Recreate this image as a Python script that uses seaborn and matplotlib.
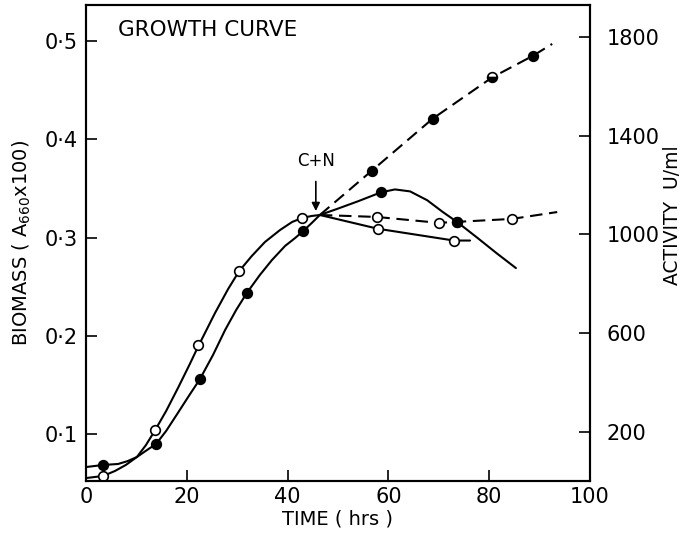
import matplotlib
matplotlib.use("Agg")
import matplotlib.pyplot as plt
import seaborn as sns
import pandas as pd
from matplotlib.ticker import FixedLocator, FixedFormatter

sns.set_style("ticks")
plt.rcParams['font.family'] = ['DejaVu Sans']
plt.rcParams['mathtext.fontset'] = 'dejavusans'
for k in ["text.color", "axes.labelcolor", "xtick.color", "ytick.color", "axes.edgecolor"]:
    plt.rcParams[k] = "black"

# ---------------- data ----------------
# measured points, growth phase
filled_t = [3.4, 13.9, 22.6, 31.9, 43.1]
filled_b = [0.069, 0.090, 0.156, 0.244, 0.307]
open_t = [3.4, 13.7, 22.2, 30.4, 42.9]
open_b = [0.0575, 0.104, 0.191, 0.266, 0.320]

# hand-drawn growth curves (traced)
open_curve_t = [0, 3.4, 5.75, 7.9, 10.1, 11.9, 13.7, 15.9, 18.25, 20.6, 22.2, 25.6,
                28.2, 30.4, 32.9, 35.5, 38.5, 40.9, 42.9, 44.8, 46.4]
open_curve_b = [0.0554, 0.0575, 0.0626, 0.0687, 0.0768, 0.089, 0.104, 0.1236, 0.147,
                0.1714, 0.1887, 0.2233, 0.2477, 0.266, 0.2813, 0.2955, 0.3077, 0.3159,
                0.320, 0.322, 0.323]
filled_curve_t = [0, 3.4, 6.35, 8.3, 10.1, 12.1, 13.9, 15.9, 18.1, 20.4, 22.6, 25.2,
                  27.6, 29.8, 31.9, 34.5, 36.9, 39.5, 41.5, 43.1, 44.8, 46.4]
filled_curve_b = [0.0666, 0.0687, 0.0697, 0.0727, 0.0768, 0.0839, 0.090, 0.1033, 0.1206,
                  0.1389, 0.156, 0.1806, 0.206, 0.2264, 0.2436, 0.262, 0.2772, 0.2915,
                  0.2996, 0.3067, 0.3149, 0.323]

# after C+N addition
up_t = [46.4, 56.7, 68.8, 80.6, 88.7, 92.5]          # dashed, rising
up_b = [0.323, 0.368, 0.421, 0.463, 0.485, 0.497]
up_pts_t = [56.7, 68.8, 88.7]
up_pts_b = [0.368, 0.421, 0.485]
up_half_t = [80.6]
up_half_b = [0.463]

peak_t = [46.4, 50.0, 54.0, 58.5, 61.3, 64.3, 67.7, 70.8, 73.6, 77.6, 81.5, 85.3]   # solid, peak
peak_b = [0.323, 0.3295, 0.337, 0.346, 0.349, 0.347, 0.338, 0.326, 0.316, 0.300, 0.284, 0.269]
peak_pts_t = [58.5, 73.6]
peak_pts_b = [0.346, 0.316]

flat_t = [46.4, 57.7, 70.0, 73.6, 84.5, 93.5]        # dashed, flat
flat_b = [0.323, 0.321, 0.315, 0.316, 0.319, 0.326]
flat_pts_t = [57.7, 70.0, 84.5]
flat_pts_b = [0.321, 0.315, 0.319]

low_t = [46.4, 57.9, 73.0, 76.2]                     # solid, declining
low_b = [0.323, 0.309, 0.297, 0.297]
low_pts_t = [57.9, 73.0]
low_pts_b = [0.309, 0.297]

x_ticks = [0, 20, 40, 60, 80, 100]
x_labels = ["0", "20", "40", "60", "80", "100"]
y_ticks = [0.1, 0.2, 0.3, 0.4, 0.5]
y_labels = ["0·1", "0·2", "0·3", "0·4", "0·5"]
r_ticks = [200, 600, 1000, 1400, 1800]
r_labels = ["200", "600", "1000", "1400", "1800"]

# ---------------- figure ----------------
fig = plt.figure(figsize=(6.84, 5.39), dpi=100)
ax = fig.add_axes([86/684, 1-481/539, (590-86)/684, (481-5)/539])
LW = 1.5

def line(t, b, dashed=False):
    d = pd.DataFrame({"t": t, "b": b})
    l = sns.lineplot(data=d, x="t", y="b", sort=False, estimator=None, color="black",
                     lw=LW, ax=ax)
    if dashed:
        l.lines[-1].set_dashes([6, 3.2])

def pts(t, b, filled):
    d = pd.DataFrame({"t": t, "b": b})
    sns.scatterplot(data=d, x="t", y="b", s=48, color="black" if filled else "white",
                    edgecolor="black", linewidth=1.2, ax=ax, zorder=5)

line(open_curve_t, open_curve_b)
line(filled_curve_t, filled_curve_b)
line(up_t, up_b, dashed=True)
line(peak_t, peak_b)
line(flat_t, flat_b, dashed=True)
line(low_t, low_b)

pts(filled_t, filled_b, True)
pts(open_t, open_b, False)
pts(up_pts_t, up_pts_b, True)
pts(peak_pts_t, peak_pts_b, True)
pts(flat_pts_t, flat_pts_b, False)
pts(low_pts_t, low_pts_b, False)
ax.plot(up_half_t, up_half_b, "o", ms=7, fillstyle="bottom", markerfacecolor="black",
        markerfacecoloralt="white", markeredgecolor="black", mew=1.2, zorder=6)
pts([73.6], [0.316], True)

ax.set_xlim(0, 100)
ax.set_ylim(0.0524, 0.5366)
ax.xaxis.set_major_locator(FixedLocator(x_ticks))
ax.xaxis.set_major_formatter(FixedFormatter(x_labels))
ax.yaxis.set_major_locator(FixedLocator(y_ticks))
ax.yaxis.set_major_formatter(FixedFormatter(y_labels))
ax.tick_params(direction="in", length=8, width=1.2, labelsize=15, pad=6)
ax.tick_params(axis="x", pad=4)
for s in ax.spines.values():
    s.set_linewidth(1.5)
    s.set_visible(True)

ax.set_xlabel("TIME ( hrs )", fontsize=14, labelpad=2)
ax.set_ylabel("BIOMASS ( A$_{660}$x100)", fontsize=14, labelpad=8)

ax2 = ax.twinx()
ax2.set_ylim(0, 1930)
ax2.yaxis.set_major_locator(FixedLocator(r_ticks))
ax2.yaxis.set_major_formatter(FixedFormatter(r_labels))
ax2.tick_params(direction="in", length=8, width=1.2, labelsize=15, pad=12)
for s in ax2.spines.values():
    s.set_linewidth(1.5)
fig.text(672/684, 1-215/539, "ACTIVITY  U/ml", rotation=90, fontsize=13.5,
         ha="center", va="center")

ax.text(6.3, 0.511, "GROWTH CURVE", fontsize=15.5, va="center", ha="left")
ax.annotate("C+N", xy=(45.6, 0.327), xytext=(45.6, 0.378), ha="center", va="center",
            fontsize=12,
            arrowprops=dict(arrowstyle="-|>", color="black", lw=1.2, shrinkA=6, shrinkB=0,
                            mutation_scale=12))

fig.savefig("out.png", dpi=100)
